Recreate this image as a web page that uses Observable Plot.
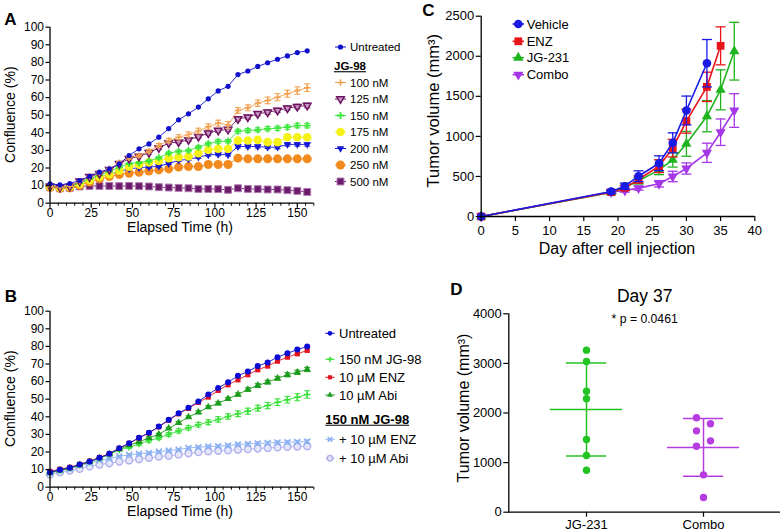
<!DOCTYPE html>
<html>
<head>
<meta charset="utf-8">
<script src="https://cdn.jsdelivr.net/npm/d3@7"></script>
<script src="https://cdn.jsdelivr.net/npm/@observablehq/plot@0.6"></script>
<style>
html, body { margin: 0; padding: 0; background: #fff; }
#fig { position: relative; width: 782px; height: 531px; overflow: hidden; background: #fff;
  font-family: "Liberation Sans", Arial, Helvetica, sans-serif; }
.panel { position: absolute; }
.panel svg { overflow: visible; }
#overlay { position: absolute; left: 0; top: 0; pointer-events: none; }
</style>
</head>
<body>
<div id="fig"></div>
<script>
// ---------------- DATA ----------------
// Panels A & B: time points (h)
const hours = [0,6,12,18,24,30,36,42,48,54,60,66,72,78,84,90,96,102,108,114,120,126,132,138,144,150,156];

// Panel A: confluence (%)
const seriesA = ["Untreated","100 nM","125 nM","150 nM","175 nM","200 nM","250 nM","500 nM"];
const a_untreated = [11.0,10.4,11.2,12.9,15.3,17.6,19.5,22.3,27.1,30.9,33.7,37.5,42.4,47.4,50.8,54.6,59.3,63.8,66.4,73.1,75.1,77.7,79.8,81.8,83.7,85.6,86.6];
const a_100 = [9.5,9.0,9.8,12.5,15.2,17.2,19.5,23.0,25.8,27.0,29.5,32.8,35.6,37.5,39.0,41.0,43.5,45.5,44.5,52.7,54.2,56.8,58.4,60.2,62.2,64.0,65.6];
const a_125 = [9.5,9.0,9.5,12.5,15.0,16.8,19.0,22.5,25.3,26.6,28.7,31.4,34.2,34.7,36.0,37.8,39.8,41.3,41.9,47.9,48.9,50.8,51.7,52.7,54.0,54.9,55.5];
const a_150 = [9.5,9.0,9.5,11.5,14.0,16.0,18.0,20.5,22.5,23.0,24.0,25.8,28.5,29.4,29.9,31.8,33.8,35.1,35.2,40.9,41.3,41.7,42.3,42.6,43.2,44.1,44.1];
const a_175 = [9.5,8.8,9.3,11.0,13.0,15.0,16.5,18.5,20.8,21.9,23.2,24.0,25.5,26.1,26.5,28.4,30.3,30.9,30.9,35.6,35.6,36.0,34.7,34.7,37.5,37.5,37.5];
const a_200 = [10.0,9.0,9.5,11.5,13.5,15.0,16.5,18.0,19.5,20.2,20.5,21.0,22.5,24.3,25.0,26.1,27.5,27.7,27.5,32.2,32.2,32.2,31.8,31.8,33.4,33.4,33.4];
const a_250 = [9.0,8.4,8.7,10.2,12.0,13.8,15.2,16.3,17.0,17.6,18.3,18.9,19.5,20.5,20.8,20.8,22.0,22.0,22.0,25.6,25.2,25.2,25.2,25.2,25.2,25.2,25.2];
const a_500 = [9.1,8.5,8.7,9.5,9.8,9.8,9.8,9.7,9.8,9.7,9.5,9.1,8.9,8.7,8.5,8.1,8.1,8.0,7.6,8.5,8.1,8.0,7.8,7.8,7.4,7.0,6.4];
// Panel A: error (SEM) where visible
const a_100_err = [0.3,0.3,0.3,0.4,0.5,0.5,0.6,0.7,0.8,0.9,1.0,1.1,1.3,1.4,1.5,1.6,1.6,1.7,1.9,1.6,1.7,1.8,1.9,2.0,2.0,2.1,2.2];
const a_125_err = [0.3,0.3,0.3,0.3,0.4,0.4,0.5,0.5,0.6,0.6,0.7,0.7,0.8,0.8,0.9,0.9,1.0,1.0,1.0,1.1,1.1,1.1,1.2,1.2,1.2,1.3,1.3];
const a_150_err = [0.3,0.3,0.3,0.3,0.4,0.4,0.4,0.5,0.5,0.6,0.6,0.7,0.7,0.8,0.8,0.9,0.9,1.0,1.0,1.1,1.1,1.1,1.2,1.2,1.2,1.3,1.3];
const a_200_err = [0.2,0.2,0.2,0.3,0.3,0.3,0.4,0.4,0.4,0.5,0.5,0.5,0.5,0.6,0.6,0.6,0.7,0.7,0.7,0.8,0.8,0.8,0.8,0.9,0.9,0.9,0.9];

// Panel B: confluence (%)
const seriesB = ["Untreated","150 nM JG-98","10 µM ENZ","10 µM Abi","+ 10 µM ENZ","+ 10 µM Abi"];
const b_untreated = [8.5,9.9,11.0,12.9,14.6,16.7,19.0,22.2,25.0,28.1,30.9,34.5,38.3,42.0,45.1,48.7,52.7,56.3,59.7,63.3,65.7,68.8,70.9,73.9,76.1,78.2,79.9];
const b_jg98 = [8.3,9.6,10.8,12.6,14.4,16.4,18.6,21.2,22.7,24.6,26.5,28.0,30.0,32.0,33.7,35.5,36.9,38.5,40.2,41.7,43.2,44.9,46.4,48.3,49.7,51.1,52.7];
const b_enz = [9.0,10.2,11.3,13.0,14.8,16.9,19.1,22.1,24.9,28.0,30.8,34.3,38.0,41.7,44.8,48.2,51.2,55.0,58.2,61.0,63.9,66.7,68.8,71.6,73.9,75.8,77.7];
const b_abi = [8.3,9.6,10.8,12.6,14.4,16.5,18.8,21.6,23.9,25.8,28.0,30.0,33.4,36.6,39.8,42.6,45.5,47.7,50.2,52.7,55.5,57.8,59.7,61.9,63.9,65.3,66.9];
const b_jg98_enz = [8.0,9.5,10.4,12.3,13.6,15.2,16.1,17.6,18.4,19.0,19.5,20.3,20.8,21.4,22.3,22.7,23.1,23.3,23.7,24.3,24.6,24.9,25.1,25.4,25.6,25.7,25.9];
const b_jg98_abi = [7.2,8.5,9.5,10.4,11.8,12.9,13.6,14.6,15.2,15.9,16.7,17.4,17.9,18.5,19.3,19.9,20.4,20.7,21.0,21.3,21.6,22.0,22.3,22.6,22.9,23.1,23.3];
const b_jg98_err = [0.3,0.3,0.3,0.4,0.4,0.5,0.6,0.7,0.8,0.8,0.9,1.0,1.1,1.2,1.2,1.3,1.4,1.5,1.5,1.6,1.7,1.7,1.8,1.9,1.9,2.0,2.1];
const b_abi_err = [0.2,0.2,0.3,0.3,0.3,0.3,0.4,0.4,0.5,0.5,0.6,0.6,0.6,0.7,0.7,0.8,0.8,0.9,0.9,0.9,1.0,1.0,1.1,1.1,1.2,1.2,1.2];
const b_jg98_enz_err = [0.2,0.2,0.3,0.3,0.3,0.4,0.4,0.4,0.5,0.5,0.5,0.5,0.6,0.6,0.6,0.6,0.7,0.7,0.7,0.7,0.8,0.8,0.8,0.8,0.8,0.9,0.9];

// Panel C: tumor volume (mm3) by day
const daysC = [0,19,21,23,26,28,30,33,35,37];
const seriesC = ["Vehicle","ENZ","JG-231","Combo"];
const c_vehicle = [0,312,378,503,665,919,1323,1913];
const c_enz = [0,304,358,462,628,853,1190,1618,2130];
const c_jg231 = [0,300,360,445,582,707,907,1252,1581,2063];
const c_combo = [0,305,324,354,408,499,599,795,1052,1323];
const c_vehicle_err = [0,20,38,67,92,125,180,296];
const c_enz_err = [0,20,30,45,80,110,150,183,237];
const c_jg231_err = [0,20,30,40,60,90,155,195,250,360];
const c_combo_err = [0,15,20,25,40,65,70,120,165,210];

// Panel D: day 37 individual tumors
const groupsD = ["JG-231","Combo"];
const d_jg231 = [3267,3039,2440,2286,1466,1143,847];
const d_combo = [1903,1782,1640,1439,1331,753,296];

// Tick values
const xTicksAB = [0,25,50,75,100,125,150];
const xMinorAB = [5,10,15,20,30,35,40,45,55,60,65,70,80,85,90,95,105,110,115,120,130,135,140,145,155,160];
const yTicksAB = [0,10,20,30,40,50,60,70,80,90,100];
const xTicksC = [0,5,10,15,20,25,30,35,40];
const yTicksC = [0,500,1000,1500,2000,2500];
const yTicksD = [0,1000,2000,3000,4000];

// ---------------- STYLE ----------------
const FONT = '"Liberation Sans", Arial, Helvetica, sans-serif';
const triDown = {
  draw(ctx, size) {
    const y = -Math.sqrt(size / (Math.sqrt(3) * 3));
    const s = Math.sqrt(3);
    ctx.moveTo(0, -y * 2);
    ctx.lineTo(-s * y, y);
    ctx.lineTo(s * y, y);
    ctx.closePath();
  }
};
const capSym = (w) => ({ draw(ctx) { ctx.moveTo(-w, 0); ctx.lineTo(w, 0); } });

const styleA = {
  "Untreated": {color: "#1111cc", symbol: d3.symbolCircle, r: 2.6},
  "100 nM": {color: "#f2a04e", symbol: d3.symbolPlus, r: 2.2, fill: "none", stroke: "#f2a04e", sw: 1.5},
  "125 nM": {color: "#6e1262", symbol: triDown, r: 2.8, fill: "#c79ac1", stroke: "#6e1262", sw: 1.5},
  "150 nM": {color: "#3ae63a", symbol: d3.symbolPlus, r: 2.4, fill: "none", stroke: "#3ae63a", sw: 1.8},
  "175 nM": {color: "#f6f218", symbol: d3.symbolCircle, r: 4.3},
  "200 nM": {color: "#1616d6", symbol: triDown, r: 2.8},
  "250 nM": {color: "#f28a1e", symbol: d3.symbolCircle, r: 4.5},
  "500 nM": {color: "#6a1c6a", symbol: d3.symbolSquare, r: 3.9, stroke: "#b27ab2", sw: 1}
};
const styleB = {
  "Untreated": {color: "#0b0bd6", symbol: d3.symbolCircle, r: 3},
  "150 nM JG-98": {color: "#38e038", symbol: d3.symbolPlus, r: 2.3, fill: "none", stroke: "#38e038", sw: 1.6},
  "10 µM ENZ": {color: "#e3121e", symbol: d3.symbolSquare, r: 2.9},
  "10 µM Abi": {color: "#1c9c1c", symbol: d3.symbolTriangle, r: 2.8},
  "+ 10 µM ENZ": {color: "#8ab0f2", symbol: d3.symbolTimes, r: 2.8, fill: "none", stroke: "#8ab0f2", sw: 1.5},
  "+ 10 µM Abi": {color: "#b2b2ee", symbol: d3.symbolCircle, r: 3.4, fill: "#e6e6fa", stroke: "#b2b2ee", sw: 1.5}
};
const styleC = {
  "Vehicle": {color: "#1a1ae6", symbol: d3.symbolCircle, r: 4.3},
  "ENZ": {color: "#e8141c", symbol: d3.symbolSquare, r: 4.4},
  "JG-231": {color: "#1eb41e", symbol: d3.symbolTriangle, r: 3.8},
  "Combo": {color: "#a637e8", symbol: triDown, r: 3.8}
};
const colorD = {"JG-231": "#22c422", "Combo": "#b53ce0"};

// ---------------- HELPERS ----------------
const fig = document.getElementById("fig");
function mount(node, left, top) {
  const div = document.createElement("div");
  div.className = "panel";
  div.style.left = left + "px";
  div.style.top = top + "px";
  div.appendChild(node);
  fig.appendChild(div);
}
function toRows(xs, ys, es) {
  return ys.map((y, i) => ({x: xs[i], y, e: es ? es[i] : 0}));
}
function seriesMarks(rows, st, o) {
  const marks = [Plot.line(rows, {x: "x", y: "y", stroke: st.color, strokeWidth: o.lineW})];
  const er = rows.filter(d => d.e > 0);
  if (er.length) {
    marks.push(
      Plot.ruleX(er, {x: "x", y1: d => d.y - d.e, y2: d => d.y + d.e, stroke: st.color, strokeWidth: o.errW}),
      Plot.dot(er, {x: "x", y: d => d.y + d.e, r: 1, symbol: capSym(o.capW), fill: "none", stroke: st.color, strokeWidth: o.errW}),
      Plot.dot(er, {x: "x", y: d => d.y - d.e, r: 1, symbol: capSym(o.capW), fill: "none", stroke: st.color, strokeWidth: o.errW})
    );
  }
  marks.push(Plot.dot(rows, {x: "x", y: "y", symbol: st.symbol, r: st.r,
    fill: st.fill ?? st.color, stroke: st.stroke ?? "none", strokeWidth: st.sw ?? 1}));
  return marks;
}
const plotStyle = (fs) => ({fontFamily: FONT, fontSize: fs + "px", color: "#000", background: "transparent", overflow: "visible"});

function growthPlot({data, order, styles, height, marginTop, marginBottom}) {
  const marks = [];
  for (const name of order) marks.push(...seriesMarks(data[name], styles[name], {lineW: 0.9, errW: 1, capW: 3}));
  return Plot.plot({
    width: 320, height, marginLeft: 49.5, marginRight: 6.7, marginTop, marginBottom,
    x: {domain: [0, 160]}, y: {domain: [0, 100]},
    style: plotStyle(12),
    marks: [
      ...marks,
      Plot.ruleX([0], {stroke: "#000", strokeWidth: 1.3}),
      Plot.ruleY([0], {stroke: "#000", strokeWidth: 1.3}),
      Plot.axisY({ticks: yTicksAB, tickSize: 4, tickPadding: 2, fontSize: 12, strokeWidth: 1.2, label: null}),
      Plot.axisX({ticks: xTicksAB, tickSize: 5, tickPadding: 0, fontSize: 12, strokeWidth: 1.2, label: null}),
      Plot.axisX({ticks: xMinorAB, tickSize: 3, tickFormat: () => "", strokeWidth: 1, label: null})
    ]
  });
}

// ---------------- PANEL A ----------------
const dataA = {
  "Untreated": toRows(hours, a_untreated),
  "100 nM": toRows(hours, a_100, a_100_err),
  "125 nM": toRows(hours, a_125, a_125_err),
  "150 nM": toRows(hours, a_150, a_150_err),
  "175 nM": toRows(hours, a_175),
  "200 nM": toRows(hours, a_200, a_200_err),
  "250 nM": toRows(hours, a_250),
  "500 nM": toRows(hours, a_500)
};
mount(growthPlot({data: dataA, order: ["500 nM","250 nM","200 nM","175 nM","150 nM","125 nM","100 nM","Untreated"],
  styles: styleA, height: 235, marginTop: 26.7, marginBottom: 32.3}), 0, 0);

// ---------------- PANEL B ----------------
const dataB = {
  "Untreated": toRows(hours, b_untreated),
  "150 nM JG-98": toRows(hours, b_jg98, b_jg98_err),
  "10 µM ENZ": toRows(hours, b_enz),
  "10 µM Abi": toRows(hours, b_abi, b_abi_err),
  "+ 10 µM ENZ": toRows(hours, b_jg98_enz, b_jg98_enz_err),
  "+ 10 µM Abi": toRows(hours, b_jg98_abi)
};
mount(growthPlot({data: dataB, order: ["+ 10 µM Abi","+ 10 µM ENZ","150 nM JG-98","10 µM Abi","10 µM ENZ","Untreated"],
  styles: styleB, height: 240, marginTop: 30.7, marginBottom: 33.3}), 0, 280);

// ---------------- PANEL C ----------------
const dataC = {
  "Vehicle": toRows(daysC, c_vehicle, c_vehicle_err),
  "ENZ": toRows(daysC, c_enz, c_enz_err),
  "JG-231": toRows(daysC, c_jg231, c_jg231_err),
  "Combo": toRows(daysC, c_combo, c_combo_err)
};
{
  const marks = [];
  for (const name of ["Combo","JG-231","ENZ","Vehicle"]) marks.push(...seriesMarks(dataC[name], styleC[name], {lineW: 1.6, errW: 1.3, capW: 5}));
  mount(Plot.plot({
    width: 382, height: 260, marginLeft: 80.7, marginRight: 27.7, marginTop: 15.7, marginBottom: 44,
    x: {domain: [0, 40]}, y: {domain: [0, 2500]},
    style: plotStyle(13),
    marks: [
      ...marks,
      Plot.ruleX([0], {stroke: "#000", strokeWidth: 1.3}),
      Plot.ruleY([0], {stroke: "#000", strokeWidth: 1.3}),
      Plot.axisY({ticks: yTicksC, tickSize: 5, tickPadding: 2, fontSize: 13, strokeWidth: 1.2, tickFormat: "d", label: null}),
      Plot.axisX({ticks: xTicksC, tickSize: 5, tickPadding: 4, fontSize: 13, strokeWidth: 1.2, tickFormat: "d", label: null})
    ]
  }), 400, 0);
}

// ---------------- PANEL D ----------------
{
  const W = 382, H = 261, mL = 108.3, mR = 2, mT = 43.3, mB = 19.3;
  const pIn = 0.2, pOut = 0.259;
  const step = (W - mL - mR) / (groupsD.length - pIn + 2 * pOut);
  const bw = step * (1 - pIn);
  const rDot = 3.7;
  const pxPerUnit = (H - mT - mB) / 4000;
  const rows = [];
  const values = {"JG-231": d_jg231, "Combo": d_combo};
  for (const g of groupsD) {
    const vals = values[g].slice().sort((a, b) => b - a);
    let toggle = -1;
    vals.forEach((v, k) => {
      const prev = k > 0 && (vals[k - 1] - v) * pxPerUnit < 2 * rDot;
      const next = k < vals.length - 1 && (v - vals[k + 1]) * pxPerUnit < 2 * rDot;
      let side = 0;
      if (prev || next) { side = toggle; toggle = -toggle; }
      rows.push({g, v, side});
    });
  }
  const stats = groupsD.map(g => ({g, mean: d3.mean(values[g]), sd: d3.deviation(values[g])}));
  const marks = [];
  for (const g of groupsD) {
    const st = stats.filter(d => d.g === g);
    const c = colorD[g];
    marks.push(
      Plot.ruleX(st, {x: "g", y1: d => d.mean - d.sd, y2: d => d.mean + d.sd, stroke: c, strokeWidth: 1.5}),
      Plot.tickY(st, {x: "g", y: d => d.mean + d.sd, stroke: c, strokeWidth: 1.5, insetLeft: (bw - 40) / 2, insetRight: (bw - 40) / 2}),
      Plot.tickY(st, {x: "g", y: d => d.mean - d.sd, stroke: c, strokeWidth: 1.5, insetLeft: (bw - 40) / 2, insetRight: (bw - 40) / 2}),
      Plot.tickY(st, {x: "g", y: "mean", stroke: c, strokeWidth: 1.5, insetLeft: (bw - 72) / 2, insetRight: (bw - 72) / 2})
    );
    for (const side of [-1, 0, 1]) {
      marks.push(Plot.dot(rows.filter(d => d.g === g && d.side === side), {x: "g", y: "v", r: rDot, fill: c, dx: side * 7}));
    }
  }
  mount(Plot.plot({
    width: W, height: H, marginLeft: mL, marginRight: mR, marginTop: mT, marginBottom: mB,
    x: {type: "band", domain: groupsD, paddingInner: pIn, paddingOuter: pOut},
    y: {domain: [0, 4000]},
    style: plotStyle(13),
    marks: [
      ...marks,
      Plot.frame({anchor: "left", stroke: "#000", strokeWidth: 1.3}),
      Plot.ruleY([0], {stroke: "#000", strokeWidth: 1.3}),
      Plot.axisY({ticks: yTicksD, tickSize: 5, tickPadding: 2, fontSize: 13, strokeWidth: 1.2, tickFormat: "d", label: null}),
      Plot.axisX({tickSize: 5, tickPadding: 3, fontSize: 13, strokeWidth: 1.2, label: null}),
      Plot.text(["Day 37"], {text: d => d, frameAnchor: "top", dy: -24.3, fontSize: 17.5}),
      Plot.text(["* p = 0.0461"], {text: d => d, frameAnchor: "top", dy: 1, fontSize: 12.2})
    ]
  }), 400, 270);
}

// ---------------- OVERLAY: panel letters, axis titles & legends ----------------
const svg = d3.select(fig).append("svg").attr("id", "overlay").attr("width", 782).attr("height", 531)
  .style("font-family", FONT);

function letter(t, cx, cy) {
  svg.append("text").attr("x", cx).attr("y", cy + 0.36 * 17).attr("text-anchor", "middle")
    .attr("font-size", 17).attr("font-weight", "bold").text(t);
}
letter("A", 10.5, 19);
letter("B", 11, 295.5);
letter("C", 428.5, 9.5);
letter("D", 456.5, 289);

function title(t, cx, cy, fs, rotated) {
  svg.append("text")
    .attr("transform", `translate(${cx},${cy})${rotated ? " rotate(-90)" : ""}`)
    .attr("x", 0).attr("y", 0.35 * fs).attr("text-anchor", "middle").attr("font-size", fs).text(t);
}
title("Confluence (%)", 10, 114.7, 14, true);
title("Elapsed Time (h)", 180, 227.5, 14, false);
title("Confluence (%)", 10, 398.7, 14, true);
title("Elapsed Time (h)", 180, 511.5, 14, false);
title("Tumor volume (mm³)", 433, 110.7, 16.5, true);
title("Day after cell injection", 617, 248.3, 16, false);
title("Tumor volume (mm³)", 463.3, 408, 16, true);

function legend(items, o) {
  for (const it of items) {
    if (it.header) {
      const t = svg.append("text").attr("x", o.hx).attr("y", it.y + 0.36 * o.fs)
        .attr("font-size", o.fs).attr("font-weight", "bold").text(it.label);
      const w = t.node().getComputedTextLength();
      svg.append("line").attr("x1", o.hx).attr("x2", o.hx + w)
        .attr("y1", it.y + 0.36 * o.fs + 1.6).attr("y2", it.y + 0.36 * o.fs + 1.6)
        .attr("stroke", "#000").attr("stroke-width", 1.1);
      continue;
    }
    const st = o.styles[it.label];
    svg.append("line").attr("x1", o.mx - o.half).attr("x2", o.mx + o.half).attr("y1", it.y).attr("y2", it.y)
      .attr("stroke", st.color).attr("stroke-width", o.lineW);
    const r = st.r * o.rScale;
    svg.append("path").attr("d", d3.symbol().type(st.symbol).size(Math.PI * r * r)())
      .attr("transform", `translate(${o.mx},${it.y})`)
      .attr("fill", st.fill ?? st.color).attr("stroke", st.stroke ?? "none").attr("stroke-width", st.sw ?? 1);
    svg.append("text").attr("x", o.tx).attr("y", it.y + 0.36 * o.fs).attr("font-size", o.fs).text(it.label);
  }
}

legend([
  {label: "Untreated", y: 47},
  {label: "JG-98", y: 66, header: true},
  {label: "100 nM", y: 82.5},
  {label: "125 nM", y: 99},
  {label: "150 nM", y: 115.5},
  {label: "175 nM", y: 132},
  {label: "200 nM", y: 148.5},
  {label: "250 nM", y: 165},
  {label: "500 nM", y: 181.5}
], {styles: styleA, mx: 340.5, half: 5.5, tx: 350, hx: 334, fs: 11.5, rScale: 1, lineW: 1});

legend([
  {label: "Untreated", y: 333.3},
  {label: "150 nM JG-98", y: 359.3},
  {label: "10 µM ENZ", y: 377.3},
  {label: "10 µM Abi", y: 395},
  {label: "150 nM JG-98", y: 419, header: true},
  {label: "+ 10 µM ENZ", y: 439.3},
  {label: "+ 10 µM Abi", y: 458.3}
], {styles: styleB, mx: 330, half: 4.7, tx: 339, hx: 325.3, fs: 13, rScale: 0.8, lineW: 1});

legend([
  {label: "Vehicle", y: 24},
  {label: "ENZ", y: 41.3},
  {label: "JG-231", y: 57.7},
  {label: "Combo", y: 74.7}
], {styles: styleC, mx: 518.3, half: 5.7, tx: 526.7, hx: 0, fs: 13, rScale: 1, lineW: 1.6});
</script>
</body>
</html>
